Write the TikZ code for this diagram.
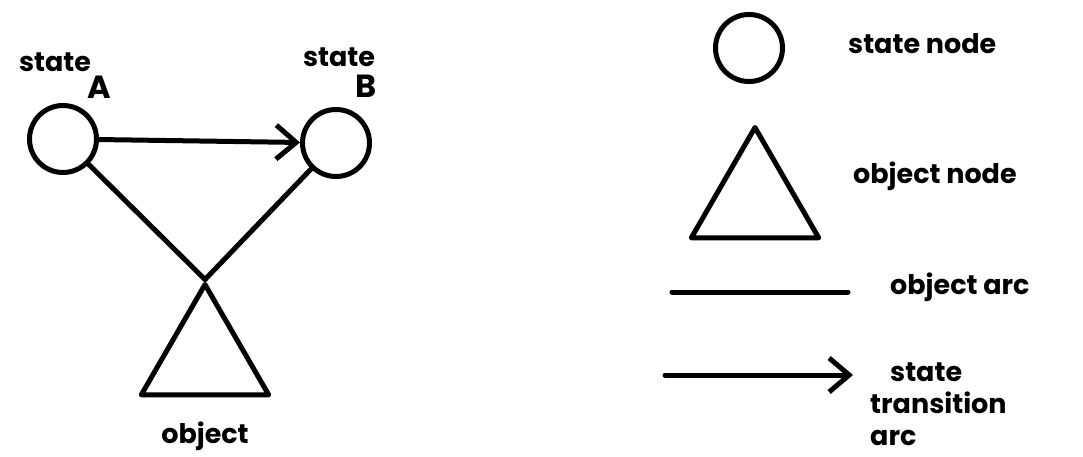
\documentclass[tikz,border=0pt]{standalone}
\usepackage{fontspec}
\setmainfont{Poppins}
\usetikzlibrary{arrows.meta,shapes.geometric}
\tikzset{
  statenode/.style={draw, circle, line width=5pt, minimum size=67pt, inner sep=0pt},
  objnode/.style={draw, regular polygon, regular polygon sides=3, line width=5pt,
    minimum size=147pt, inner sep=0pt, line join=round},
  objarc/.style={line width=5pt, line cap=round},
  statearc/.style={-{Straight Barb[length=20pt,width=34pt,line width=5pt]}, line width=5pt, line cap=round},
  hand/.style={font=\fontsize{27}{32}\selectfont\bfseries, inner sep=0pt},
  letter/.style={font=\fontsize{32}{34}\selectfont\bfseries, inner sep=0pt},
}

\begin{document}
\begin{tikzpicture}[x=1pt, y=-1pt]
  \useasboundingbox (0,0) rectangle (1083,457);

  % example net
  \node[statenode] (stA) at (63,139) {};
  \node[statenode] (stB) at (336,143) {};
  \node[objnode] (obj) at (205,358) {};
  \node[hand] (labA) at (55,62) {state};
  \node[letter] (letA) at (99,87) {A};
  \node[hand] (labB) at (339,57) {state};
  \node[letter] (letB) at (366,86) {B};
  \node[hand] (labObj) at (205,436) {object};
  \draw[statearc] (stA) -- (stB);
  \draw[objarc] (stA) -- (obj.corner 1);
  \draw[objarc] (stB) -- (obj.corner 1);

  % legend
  \node[statenode] (keySt) at (749,48) {};
  \node[objnode] (keyObj) at (755,201) {};
  \coordinate (arcL) at (672,292);
  \coordinate (arcR) at (848,292);
  \coordinate (trL) at (665,375);
  \coordinate (trR) at (853,375);
  \draw[objarc] (arcL) -- (arcR);
  \draw[statearc] (trL) -- (trR);
  \node[hand, anchor=west] (keyStTxt) at (848,44) {state node};
  \node[hand, anchor=west] (keyObjTxt) at (853,176) {object node};
  \node[hand, anchor=west] (keyArcTxt) at (890,287) {object arc};
  \node[hand, anchor=west, align=left] (keyTrTxt) at (870,404) {\hspace*{20pt}state\\transition\\arc};
\end{tikzpicture}
\end{document}
